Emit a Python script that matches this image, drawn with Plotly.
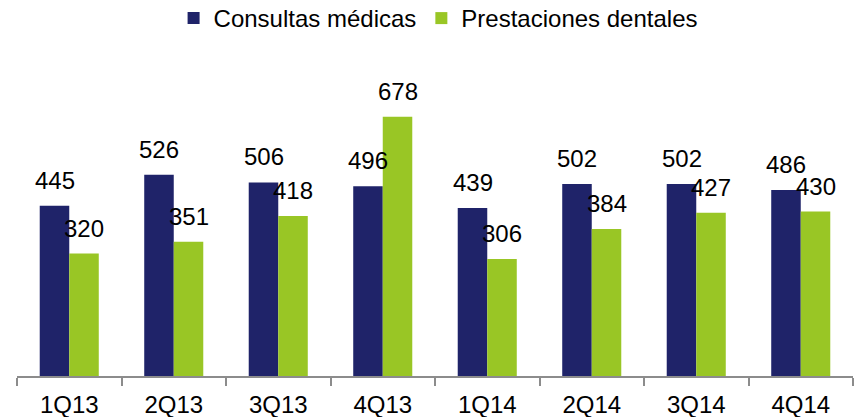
import plotly.graph_objects as go

categories = ["1Q13", "2Q13", "3Q13", "4Q13", "1Q14", "2Q14", "3Q14", "4Q14"]
consultas = [445, 526, 506, 496, 439, 502, 502, 486]
dentales = [320, 351, 418, 678, 306, 384, 427, 430]

navy = "#1F2369"
green = "#99C625"
font_family = "Liberation Sans, Arial, sans-serif"
FS = 24

fig = go.Figure()
fig.add_trace(go.Bar(
    name="Consultas médicas", x=categories, y=consultas,
    marker=dict(color=navy, line=dict(width=0)),
))
fig.add_trace(go.Bar(
    name="Prestaciones dentales", x=categories, y=dentales,
    marker=dict(color=green, line=dict(width=0)),
))

half = 14.75
for c, v in zip(categories, consultas):
    fig.add_annotation(x=c, y=v, text=str(v), showarrow=False, xshift=-half,
                       yanchor="bottom", yshift=10, font=dict(size=FS, color="black"))
for c, v in zip(categories, dentales):
    fig.add_annotation(x=c, y=v, text=str(v), showarrow=False, xshift=half,
                       yanchor="bottom", yshift=10, font=dict(size=FS, color="black"))

fig.update_layout(
    width=859, height=417,
    margin=dict(l=17, r=6, t=70, b=41),
    paper_bgcolor="white", plot_bgcolor="white",
    barmode="group", bargap=0.435, bargroupgap=0,
    font=dict(family=font_family, size=FS, color="black"),
    showlegend=True,
    legend=dict(orientation="h", xref="container", yref="container",
                x=0.51, xanchor="center", y=1 - 18.5 / 417, yanchor="middle",
                font=dict(size=FS), itemwidth=30,
                bgcolor="rgba(0,0,0,0)"),
    xaxis=dict(showline=True, linecolor="#8C8C8C", linewidth=1.5,
               ticks="outside", tickson="boundaries", ticklen=8, tickcolor="#8C8C8C",
               tickwidth=1.5, tickfont=dict(size=FS), showgrid=False,
               ticklabelstandoff=6, automargin=False),
    yaxis=dict(range=[0, 800], visible=False, showgrid=False, zeroline=False,
               automargin=False),
)

fig.write_html("out.html", config={"displayModeBar": False},
               post_script="document.body.style.margin='0';")
